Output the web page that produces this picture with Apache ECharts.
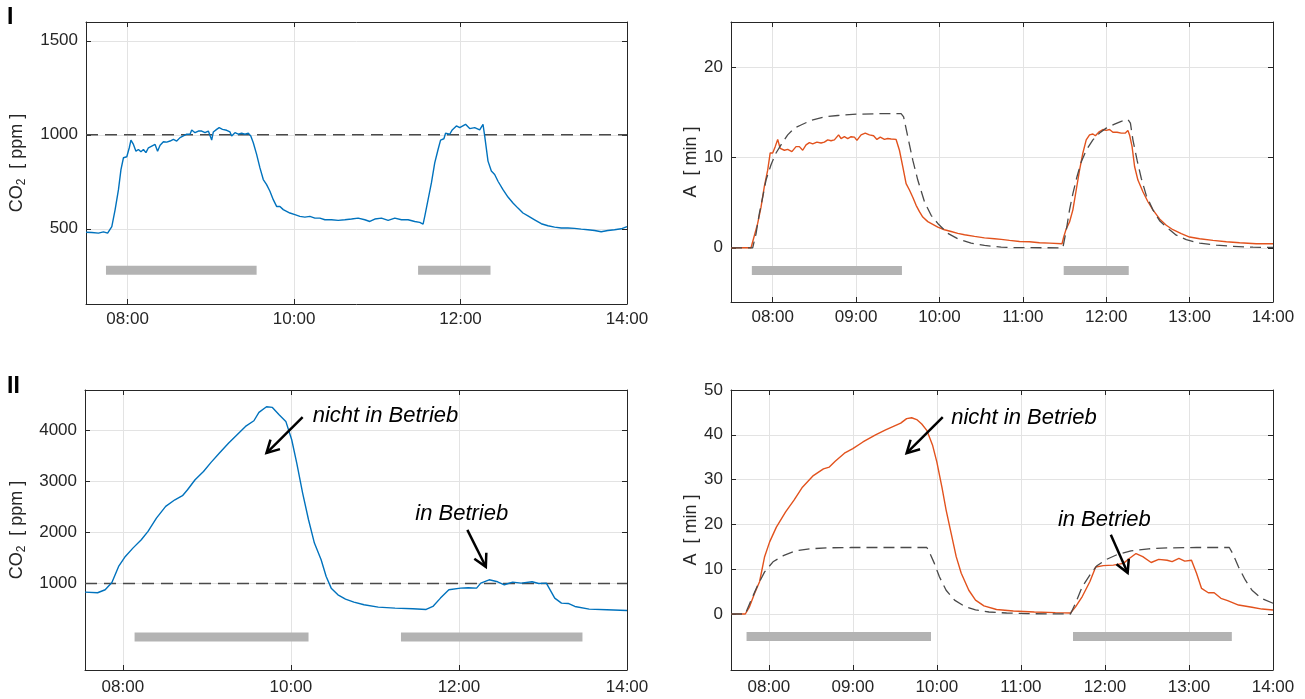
<!DOCTYPE html>
<html><head><meta charset="utf-8">
<script src="https://cdn.jsdelivr.net/npm/echarts@6/dist/echarts.min.js"></script>
<style>html,body{margin:0;padding:0;background:#fff}#c{width:1305px;height:699px}</style>
</head><body><div id="c"></div><script>
// ---------- DATA (time in decimal hours) ----------
const co2I = [[7.5,482],[7.57,480],[7.65,477],[7.71,484],[7.76,477],[7.81,512],[7.85,602],[7.89,708],[7.92,815],[7.95,878],
[7.99,883],[8.02,931],[8.04,972],[8.07,949],[8.10,913],[8.13,922],[8.16,910],[8.19,922],[8.22,905],[8.25,931],
[8.29,940],[8.33,949],[8.36,913],[8.39,944],[8.43,963],[8.47,961],[8.51,967],[8.55,976],[8.59,967],[8.63,985],
[8.67,994],[8.71,1003],[8.75,1003],[8.77,1026],[8.81,1011],[8.85,1020],[8.89,1020],[8.93,1011],[8.97,1020],[9.01,972],
[9.03,1015],[9.07,1029],[9.10,1038],[9.14,1029],[9.19,1024],[9.23,1015],[9.25,994],[9.29,1011],[9.33,1003],[9.37,1008],
[9.41,1003],[9.45,1008],[9.48,994],[9.51,958],[9.55,896],[9.59,824],[9.63,762],[9.67,735],[9.71,700],[9.75,655],
[9.79,619],[9.83,619],[9.87,602],[9.91,593],[9.95,584],[10.01,575],[10.07,566],[10.13,562],[10.19,566],[10.25,557],
[10.31,557],[10.37,548],[10.45,548],[10.53,545],[10.61,548],[10.69,552],[10.77,557],[10.85,548],[10.91,539],[10.97,552],
[11.05,557],[11.13,545],[11.21,557],[11.29,548],[11.37,548],[11.45,539],[11.51,534],[11.55,525],[11.57,566],[11.61,655],
[11.65,744],[11.69,851],[11.73,922],[11.76,972],[11.80,979],[11.82,1008],[11.87,1003],[11.90,1026],[11.95,1047],[11.99,1038],
[12.06,1056],[12.11,1033],[12.17,1038],[12.23,1026],[12.27,1056],[12.29,994],[12.33,860],[12.37,807],[12.41,789],[12.45,753],
[12.51,708],[12.57,669],[12.63,637],[12.69,610],[12.75,584],[12.81,569],[12.89,548],[12.97,527],[13.05,516],[13.13,509],
[13.21,504],[13.29,504],[13.37,502],[13.45,498],[13.53,495],[13.61,491],[13.69,484],[13.77,491],[13.85,495],[13.93,500],[14.0,512]];

const aI = [[7.5,0],[7.74,0],[7.77,1.0],[7.82,2.7],[7.86,4.5],[7.90,6.8],[7.94,8.6],[7.97,10.5],[8.0,10.5],[8.03,11.2],
[8.06,12.0],[8.09,11.0],[8.14,10.8],[8.18,10.9],[8.23,10.65],[8.28,11.2],[8.32,11.2],[8.36,10.8],[8.40,11.4],[8.44,11.65],
[8.48,11.5],[8.53,11.7],[8.58,11.6],[8.62,11.7],[8.66,11.95],[8.70,11.85],[8.74,11.95],[8.79,12.5],[8.82,12.1],[8.86,12.3],
[8.90,12.1],[8.94,12.3],[8.98,12.25],[9.01,11.9],[9.06,12.5],[9.11,12.7],[9.16,12.5],[9.21,12.4],[9.25,12.0],[9.29,12.25],
[9.34,12.0],[9.38,12.1],[9.42,12.05],[9.48,12.0],[9.52,10.8],[9.56,9.0],[9.60,7.1],[9.64,6.4],[9.68,5.6],[9.72,4.7],
[9.76,4.0],[9.80,3.4],[9.86,2.9],[9.92,2.6],[9.98,2.3],[10.06,2.0],[10.14,1.8],[10.22,1.6],[10.30,1.45],[10.42,1.26],
[10.54,1.1],[10.66,1.0],[10.74,0.93],[10.84,0.82],[10.96,0.7],[11.08,0.67],[11.20,0.56],[11.32,0.52],[11.47,0.45],[11.49,1.2],
[11.52,2.1],[11.56,2.86],[11.60,4.2],[11.64,6.4],[11.68,8.6],[11.72,10.5],[11.76,11.95],[11.80,12.5],[11.84,12.6],[11.87,12.4],
[11.91,12.8],[11.96,13.1],[12.0,13.0],[12.04,13.1],[12.08,12.8],[12.13,12.8],[12.18,12.7],[12.23,12.7],[12.26,13.0],[12.28,12.5],
[12.31,11.2],[12.34,9.0],[12.38,7.5],[12.44,6.2],[12.50,5.1],[12.56,4.2],[12.64,3.2],[12.72,2.5],[12.80,2.0],[12.90,1.56],
[13.0,1.19],[13.12,1.0],[13.28,0.82],[13.44,0.67],[13.60,0.56],[13.80,0.45],[14.0,0.45]];

const modelI = [[7.5,0],[7.76,0],[7.80,1.55],[7.84,3.8],[7.88,5.6],[7.92,7.5],[7.98,9.2],[8.04,10.5],[8.10,11.4],[8.18,12.5],
[8.26,13.25],[8.34,13.6],[8.46,14.1],[8.62,14.5],[8.78,14.65],[9.02,14.8],[9.30,14.85],[9.54,14.85],[9.57,14.5],[9.62,12.3],
[9.68,9.7],[9.74,7.5],[9.82,5.1],[9.90,3.6],[9.98,2.7],[10.10,1.6],[10.22,1.0],[10.38,0.52],[10.54,0.26],[10.74,0.07],
[10.9,0.02],[11.48,0],[11.52,1.9],[11.56,4.2],[11.60,6.0],[11.65,7.9],[11.70,9.5],[11.76,10.8],[11.84,11.95],[11.92,12.7],
[12.0,13.25],[12.10,13.7],[12.18,14.0],[12.26,14.2],[12.29,13.8],[12.32,11.95],[12.37,9.7],[12.42,7.7],[12.48,5.8],[12.56,4.2],
[12.64,3.0],[12.72,2.3],[12.84,1.4],[12.96,0.9],[13.12,0.52],[13.32,0.3],[13.52,0.15],[13.76,0.07],[14.0,0.04]];

const co2II = [[7.55,830],[7.70,817],[7.79,876],[7.87,1020],[7.95,1334],[8.03,1530],[8.12,1694],[8.22,1858],[8.30,2022],[8.40,2284],
[8.51,2513],[8.62,2644],[8.71,2723],[8.77,2840],[8.86,3037],[8.96,3200],[9.05,3378],[9.15,3561],[9.26,3758],[9.36,3921],
[9.46,4085],[9.56,4196],[9.62,4360],[9.71,4472],[9.78,4458],[9.86,4314],[9.94,4183],[10.01,3823],[10.07,3365],[10.14,2775],
[10.21,2251],[10.28,1793],[10.36,1465],[10.42,1138],[10.48,908],[10.56,777],[10.65,692],[10.75,633],[10.87,581],[11.04,535],
[11.24,515],[11.45,502],[11.61,489],[11.69,548],[11.78,712],[11.88,876],[12.02,908],[12.11,915],[12.21,908],[12.26,1007],
[12.36,1072],[12.46,1033],[12.54,974],[12.64,1026],[12.74,1007],[12.87,1033],[12.95,1000],[13.04,1007],[13.14,712],[13.22,614],
[13.30,607],[13.38,548],[13.55,496],[13.76,483],[14.0,470]];

const aII = [[7.55,0],[7.72,0],[7.77,1.6],[7.83,4.6],[7.89,7.2],[7.95,12.8],[8.01,16.1],[8.09,19.4],[8.20,22.8],[8.30,25.4],
[8.40,28.3],[8.53,30.9],[8.65,32.4],[8.72,32.8],[8.79,34.1],[8.90,35.9],[9.0,36.9],[9.12,38.4],[9.27,40.0],[9.39,41.1],
[9.51,42.1],[9.57,42.6],[9.64,43.6],[9.70,43.8],[9.76,43.4],[9.82,42.4],[9.88,41.0],[9.95,37.6],[10.0,33.9],[10.06,28.3],
[10.11,23.2],[10.17,18.0],[10.23,12.8],[10.29,9.1],[10.38,5.3],[10.46,3.1],[10.56,1.8],[10.71,1.0],[10.91,0.67],[11.16,0.45],
[11.41,0.3],[11.59,0.22],[11.65,1.6],[11.73,3.9],[11.82,7.2],[11.89,10.5],[11.98,10.8],[12.10,10.9],[12.22,11.3],[12.29,12.4],
[12.37,13.5],[12.45,12.8],[12.55,11.5],[12.64,12.2],[12.74,12.0],[12.80,11.7],[12.88,12.4],[12.95,11.8],[13.03,12.0],[13.09,9.1],
[13.15,5.7],[13.23,4.75],[13.30,4.75],[13.38,3.5],[13.46,3.0],[13.59,2.0],[13.75,1.5],[13.87,1.1],[14.0,0.9]];

const modelII = [[7.55,0],[7.72,0],[7.79,3.1],[7.87,6.5],[7.95,9.4],[8.05,11.65],[8.18,13.1],[8.32,14.1],[8.49,14.55],[8.69,14.77],
[8.98,14.84],[9.39,14.84],[9.88,14.84],[9.90,14.25],[9.97,11.3],[10.03,8.3],[10.11,5.3],[10.21,3.1],[10.34,1.6],[10.46,0.9],
[10.62,0.45],[10.83,0.22],[11.08,0.07],[11.59,0],[11.65,2.4],[11.73,6.1],[11.82,8.7],[11.90,10.7],[12.02,12.2],[12.15,13.3],
[12.31,14.1],[12.52,14.55],[12.76,14.77],[13.09,14.84],[13.48,14.84],[13.52,13.5],[13.59,10.5],[13.67,7.6],[13.75,5.3],[13.86,3.5],[14.0,2.4]];

// occupancy bars [start, end] and their drawing level
const barsI_co2 = [[7.74, 9.55], [11.49, 12.36]];  const barLevelI_co2 = 280;
const barsI_a   = [[7.75, 9.55], [11.49, 12.27]];  const barLevelI_a = -2.5;
const barsII_co2 = [[8.14, 10.21], [11.31, 13.47]]; const barLevelII_co2 = -50;
const barsII_a   = [[7.735, 9.93], [11.62, 13.51]]; const barLevelII_a = -5;

const co2Limit = 1000;

// ticks
const xTicks2h = [8, 10, 12, 14];
const xTicks1h = [8, 9, 10, 11, 12, 13, 14];
const yTicksCO2_I = [500, 1000, 1500];
const yTicksA_I = [0, 10, 20];
const yTicksCO2_II = [1000, 2000, 3000, 4000];
const yTicksA_II = [0, 10, 20, 30, 40, 50];
const panelLabels = ['I', 'II'];

// annotations [text, textAnchor, arrowTail, arrowHead, grid]
const annotations = [
  ['nicht in Betrieb', [10.26, 4290], [10.14, 4268], [9.71, 3562], 2],
  ['in Betrieb', [11.48, 2366], [12.10, 2052], [12.32, 1327], 2],
  ['nicht in Betrieb', [10.17, 43.7], [10.07, 43.95], [9.64, 35.9], 3],
  ['in Betrieb', [11.44, 21.0], [12.07, 17.7], [12.27, 9.2], 3]
];

// ---------- CHART ----------
const FONT = '"Liberation Sans", Arial, Helvetica, sans-serif';
const AX = '#262626', GRIDC = '#e3e3e3';
const BLUE = '#0072BD', ORANGE = '#E2521D', DASH = '#4a4a4a', BARC = '#b3b3b3';
const hourLabel = v => (v < 10 ? '0' : '') + Math.round(v) + ':00';
const plainNum = v => String(v);

const co2Name = '{n|CO}{s|2}{n|  [ ppm ]}';
const aName = '{n|A  [ min ]}';
const nameRich = {
  n: {fontSize: 18, lineHeight: 22, fontFamily: FONT, color: AX},
  s: {fontSize: 12, lineHeight: 12, padding: [10, 0, 0, 0], verticalAlign: 'bottom', fontFamily: FONT, color: AX}
};

const panels = [
  {grid: {left: 86, top: 22, width: 541, height: 282}, x: [7.5, 14], xt: xTicks2h, y: [100, 1600], yt: yTicksCO2_I, name: co2Name, gap: 58},
  {grid: {left: 731, top: 22, width: 542, height: 280}, x: [7.5, 14], xt: xTicks1h, y: [-6, 25], yt: yTicksA_I, name: aName, gap: 29},
  {grid: {left: 85, top: 390, width: 542, height: 280}, x: [7.55, 14], xt: xTicks2h, y: [-700, 4800], yt: yTicksCO2_II, name: co2Name, gap: 57},
  {grid: {left: 731, top: 390, width: 542, height: 280}, x: [7.55, 14], xt: xTicks1h, y: [-12.5, 50], yt: yTicksA_II, name: aName, gap: 29}
];

const grid = [], xAxis = [], yAxis = [], series = [];
panels.forEach((p, i) => {
  grid.push(Object.assign({containLabel: false}, p.grid));
  const line = {show: true, onZero: false, lineStyle: {color: AX, width: 1}};
  const tick = t => ({show: true, inside: true, length: 5, customValues: t, lineStyle: {color: AX, width: 1}});
  const lab = {fontFamily: FONT, fontSize: 17, color: AX};
  xAxis.push({type: 'value', gridIndex: i, min: p.x[0], max: p.x[1], position: 'bottom',
    axisLine: line, axisTick: tick(p.xt),
    axisLabel: Object.assign({customValues: p.xt, formatter: hourLabel, margin: i < 2 ? 7 : 9}, lab),
    splitLine: {show: true, lineStyle: {color: GRIDC, width: 1}}});
  xAxis.push({type: 'value', gridIndex: i, min: p.x[0], max: p.x[1], position: 'top',
    axisLine: line, axisTick: tick(p.xt), axisLabel: {show: false}, splitLine: {show: false}});
  yAxis.push({type: 'value', gridIndex: i, min: p.y[0], max: p.y[1], position: 'left',
    axisLine: line, axisTick: tick(p.yt),
    axisLabel: Object.assign({customValues: p.yt, formatter: plainNum, margin: 8}, lab),
    splitLine: {show: true, lineStyle: {color: GRIDC, width: 1}},
    name: p.name, nameLocation: 'middle', nameGap: p.gap, nameRotate: 90,
    nameTextStyle: {fontFamily: FONT, fontSize: 18, color: AX, rich: nameRich}});
  yAxis.push({type: 'value', gridIndex: i, min: p.y[0], max: p.y[1], position: 'right',
    axisLine: line, axisTick: tick(p.yt), axisLabel: {show: false}, splitLine: {show: false}});
});

function lineSeries(gi, data, color, width, dash, z) {
  return {type: 'line', xAxisIndex: 2 * gi, yAxisIndex: 2 * gi, data: data, showSymbol: false, symbol: 'none',
    lineStyle: {color: color, width: width, type: dash || 'solid', cap: 'butt'}, z: z, silent: true, animation: false};
}
function addBars(gi, bars, level) {
  bars.forEach(b => series.push(lineSeries(gi, [[b[0], level], [b[1], level]], BARC, 9, null, 1)));
}
addBars(0, barsI_co2, barLevelI_co2);
addBars(1, barsI_a, barLevelI_a);
addBars(2, barsII_co2, barLevelII_co2);
addBars(3, barsII_a, barLevelII_a);

series.push(lineSeries(0, [[panels[0].x[0], co2Limit], [panels[0].x[1], co2Limit]], DASH, 1.4, [12, 7], 2));
series.push(lineSeries(2, [[panels[2].x[0], co2Limit], [panels[2].x[1], co2Limit]], DASH, 1.4, [12, 7], 2));
series.push(lineSeries(0, co2I, BLUE, 1.4, null, 3));
series.push(lineSeries(1, aI, ORANGE, 1.4, null, 3));
series.push(lineSeries(1, modelI, DASH, 1.3, [11, 6], 4));
series.push(lineSeries(2, co2II, BLUE, 1.4, null, 3));
series.push(lineSeries(3, aII, ORANGE, 1.4, null, 3));
series.push(lineSeries(3, modelII, DASH, 1.3, [11, 6], 4));

const chart = echarts.init(document.getElementById('c'));
chart.setOption({animation: false, backgroundColor: '#fff', grid, xAxis, yAxis, series});

// panel labels and annotations
const graphic = [
  {type: 'text', left: 7, top: 6, style: {text: panelLabels[0], font: 'bold 23px ' + FONT, fill: '#000'}},
  {type: 'text', left: 7, top: 375, style: {text: panelLabels[1], font: 'bold 23px ' + FONT, fill: '#000'}}
];
annotations.forEach(a => {
  const gi = a[4];
  const tp = chart.convertToPixel({gridIndex: gi}, a[1]);
  const t = chart.convertToPixel({gridIndex: gi}, a[2]);
  const h = chart.convertToPixel({gridIndex: gi}, a[3]);
  graphic.push({type: 'text', x: tp[0], y: tp[1], z: 20,
    style: {text: a[0], font: 'italic 22px ' + FONT, fill: '#000', textVerticalAlign: 'middle', textAlign: 'left'}});
  graphic.push({type: 'line', z: 20, shape: {x1: t[0], y1: t[1], x2: h[0], y2: h[1]},
    style: {stroke: '#000', lineWidth: 2.5}});
  const dx = h[0] - t[0], dy = h[1] - t[1], L = Math.hypot(dx, dy);
  const ux = dx / L, uy = dy / L, len = 14, ang = 0.5;
  const p1 = [h[0] - len * (ux * Math.cos(ang) - uy * Math.sin(ang)), h[1] - len * (uy * Math.cos(ang) + ux * Math.sin(ang))];
  const p2 = [h[0] - len * (ux * Math.cos(-ang) - uy * Math.sin(-ang)), h[1] - len * (uy * Math.cos(-ang) + ux * Math.sin(-ang))];
  graphic.push({type: 'polyline', z: 20, shape: {points: [p1, h, p2]},
    style: {stroke: '#000', lineWidth: 2.5, fill: null, lineJoin: 'miter'}});
});
chart.setOption({graphic});
</script></body></html>
